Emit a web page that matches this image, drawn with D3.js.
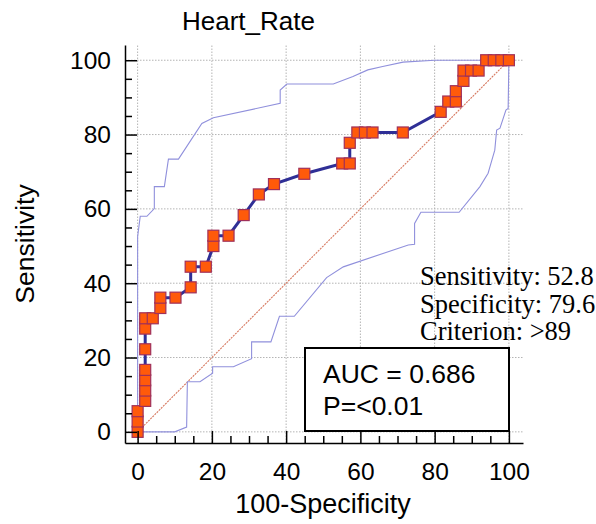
<!DOCTYPE html>
<html>
<head>
  <title>Heart_Rate ROC</title>
  <style>
    body { margin: 0; background: #fff; }
    .chart text { font-family: "Liberation Sans", Arial, sans-serif; fill: #000; }
    .chart .axis path, .chart .axis line { stroke: #000; stroke-width: 1.5; }
    .chart .grid line { stroke: #b4b4b4; stroke-width: 1; stroke-dasharray: 1.5,1.5; }
    .chart .band { fill: none; stroke: #9090dc; stroke-width: 1.1; }
    .chart .diag { stroke: #d6785f; stroke-width: 1.1; stroke-dasharray: 2,1; }
    .chart .roc { fill: none; stroke: #2f2f96; stroke-width: 3; }
    .chart .pt { fill: #ff5a0a; stroke: #a0305a; stroke-width: 1.2; }
    .chart .stats { font-family: "Liberation Serif", "Times New Roman", serif; font-size: 26.5px; }
  </style>
</head>
<body>
  <svg id="chart" class="chart" width="596" height="524"></svg>

  <script src="https://d3js.org/d3.v7.min.js"></script>
  <script>
    // ROC points: 100-Specificity and Sensitivity (36 positives, 49 negatives)
    const fpr = [0, 0, 0, 2.04, 2.04, 2.04, 2.04, 2.04, 2.04, 2.04, 4.08, 6.12, 6.12, 10.2,
      14.29, 14.29, 18.37, 20.41, 20.41, 24.49, 28.57, 32.65, 36.73, 44.9, 55.1, 57.14,
      57.14, 59.18, 61.22, 63.27, 71.43, 81.63, 83.67, 85.71, 85.71, 87.76, 87.76, 89.8,
      91.84, 93.88, 95.92, 97.96, 100];
    const sens = [0, 2.78, 5.56, 8.33, 11.11, 13.89, 16.67, 22.22, 27.78, 30.56, 30.56, 33.33,
      36.11, 36.11, 38.89, 44.44, 44.44, 50, 52.78, 52.78, 58.33, 63.89, 66.67, 69.44, 72.22,
      72.22, 77.78, 80.56, 80.56, 80.56, 80.56, 86.11, 88.89, 88.89, 91.67, 94.44, 97.22,
      97.22, 97.22, 100, 100, 100, 100];

    // 95% confidence bounds
    const upperX = [0, 0, 0.7, 2.5, 4.5, 4.5, 7.2, 8.3, 11, 17.3, 20.4, 38.4, 38.4, 40.2,
      52.7, 58, 62, 66, 71.5, 80, 100];
    const upperY = [0, 52.5, 58, 58, 60.1, 66, 66, 73.4, 73.4, 83, 84.5, 88.4, 92, 93.6,
      93.6, 95.6, 97.4, 98.3, 99.5, 100, 100];
    const lowerX = [0, 10, 13.2, 13.4, 16.8, 20.2, 20.2, 25.8, 30.7, 30.7, 35.9, 38.2, 42.2,
      50.9, 55.4, 72.9, 74.6, 74.6, 76.3, 86.6, 92.2, 94.4, 95.3, 96.2, 96.7, 97.6, 99.2,
      99.8, 100];
    const lowerY = [0, 0, 1.3, 13.5, 13.5, 15.8, 17.5, 17.5, 19.7, 24.2, 24.2, 31.1, 31.1,
      41.5, 44.4, 50.3, 50.5, 56.1, 59.1, 59.1, 66, 69.6, 72.7, 75.8, 81.2, 81.7, 86.6,
      87, 100];

    const majorTicks = [0, 20, 40, 60, 80, 100];
    const minorTicks = [5, 10, 15, 25, 30, 35, 45, 50, 55, 65, 70, 75, 85, 90, 95];
    const statLines = ['Sensitivity: 52.8', 'Specificity: 79.6', 'Criterion: >89'];
    const aucLines = ['AUC = 0.686', 'P=<0.01'];

    const svg = d3.select('#chart');
    const x = d3.scaleLinear().domain([-3.4, 103.8]).range([125, 523]);
    const y = d3.scaleLinear().domain([-3.0, 104.1]).range([443, 45]);

    // grid
    const grid = svg.append('g').attr('class', 'grid');
    grid.selectAll('.gx').data(majorTicks).enter().append('line')
      .attr('x1', d => x(d)).attr('x2', d => x(d))
      .attr('y1', y.range()[0]).attr('y2', y.range()[1]);
    grid.selectAll('.gy').data(majorTicks).enter().append('line')
      .attr('x1', x.range()[0]).attr('x2', x.range()[1])
      .attr('y1', d => y(d)).attr('y2', d => y(d));

    // diagonal reference
    svg.append('line').attr('class', 'diag')
      .attr('x1', x(0)).attr('y1', y(0)).attr('x2', x(100)).attr('y2', y(100));

    // confidence bands
    const line = d3.line().x(d => x(d[0])).y(d => y(d[1]));
    svg.append('path').attr('class', 'band').attr('d', line(d3.zip(upperX, upperY)));
    svg.append('path').attr('class', 'band').attr('d', line(d3.zip(lowerX, lowerY)));

    // ROC curve + markers
    const pts = d3.zip(fpr, sens);
    svg.append('path').attr('class', 'roc').attr('d', line(pts));
    const sz = 11;
    svg.selectAll('.pt').data(pts).enter().append('rect')
      .attr('class', 'pt')
      .attr('x', d => x(d[0]) - sz / 2).attr('y', d => y(d[1]) - sz / 2)
      .attr('width', sz).attr('height', sz);

    // axes (ticks point inward)
    const xAxis = svg.append('g').attr('class', 'axis')
      .attr('transform', `translate(0,${y.range()[0]})`)
      .call(d3.axisBottom(x).tickValues(majorTicks).tickSizeInner(-12).tickSizeOuter(0).tickPadding(20));
    xAxis.selectAll('text').style('font-size', '24.5px');
    svg.append('g').attr('class', 'axis')
      .attr('transform', `translate(0,${y.range()[0]})`)
      .call(d3.axisBottom(x).tickValues(minorTicks).tickSizeInner(-7).tickSizeOuter(0).tickFormat(''))
      .select('.domain').remove();

    const yAxis = svg.append('g').attr('class', 'axis')
      .attr('transform', `translate(${x.range()[0]},0)`)
      .call(d3.axisLeft(y).tickValues(majorTicks).tickSizeInner(-12).tickSizeOuter(0).tickPadding(14));
    yAxis.selectAll('text').style('font-size', '24.5px');
    svg.append('g').attr('class', 'axis')
      .attr('transform', `translate(${x.range()[0]},0)`)
      .call(d3.axisLeft(y).tickValues(minorTicks).tickSizeInner(-7).tickSizeOuter(0).tickFormat(''))
      .select('.domain').remove();
    svg.selectAll('.axis .domain').attr('stroke-width', 2);
    svg.selectAll('.axis text').attr('fill', '#000').style('font-family', '"Liberation Sans", Arial, sans-serif');

    // titles
    svg.append('text').attr('x', 182).attr('y', 30).style('font-size', '26px').text('Heart_Rate');
    svg.append('text').attr('x', 323).attr('y', 513).attr('text-anchor', 'middle')
      .style('font-size', '27px').text('100-Specificity');
    svg.append('text').attr('transform', 'translate(34,244) rotate(-90)')
      .attr('text-anchor', 'middle').style('font-size', '26.5px').text('Sensitivity');

    // criterion stats
    svg.append('g').selectAll('text').data(statLines).enter().append('text')
      .attr('class', 'stats').attr('x', 420).attr('y', (d, i) => 285 + i * 27.5).text(d => d);

    // AUC box
    svg.append('rect').attr('x', 305).attr('y', 348).attr('width', 204).attr('height', 83)
      .attr('fill', '#fff').attr('stroke', '#000').attr('stroke-width', 2);
    svg.append('g').selectAll('text').data(aucLines).enter().append('text')
      .attr('x', 323).attr('y', (d, i) => 383 + i * 32).style('font-size', '26.5px').text(d => d);
  </script>
</body>
</html>
